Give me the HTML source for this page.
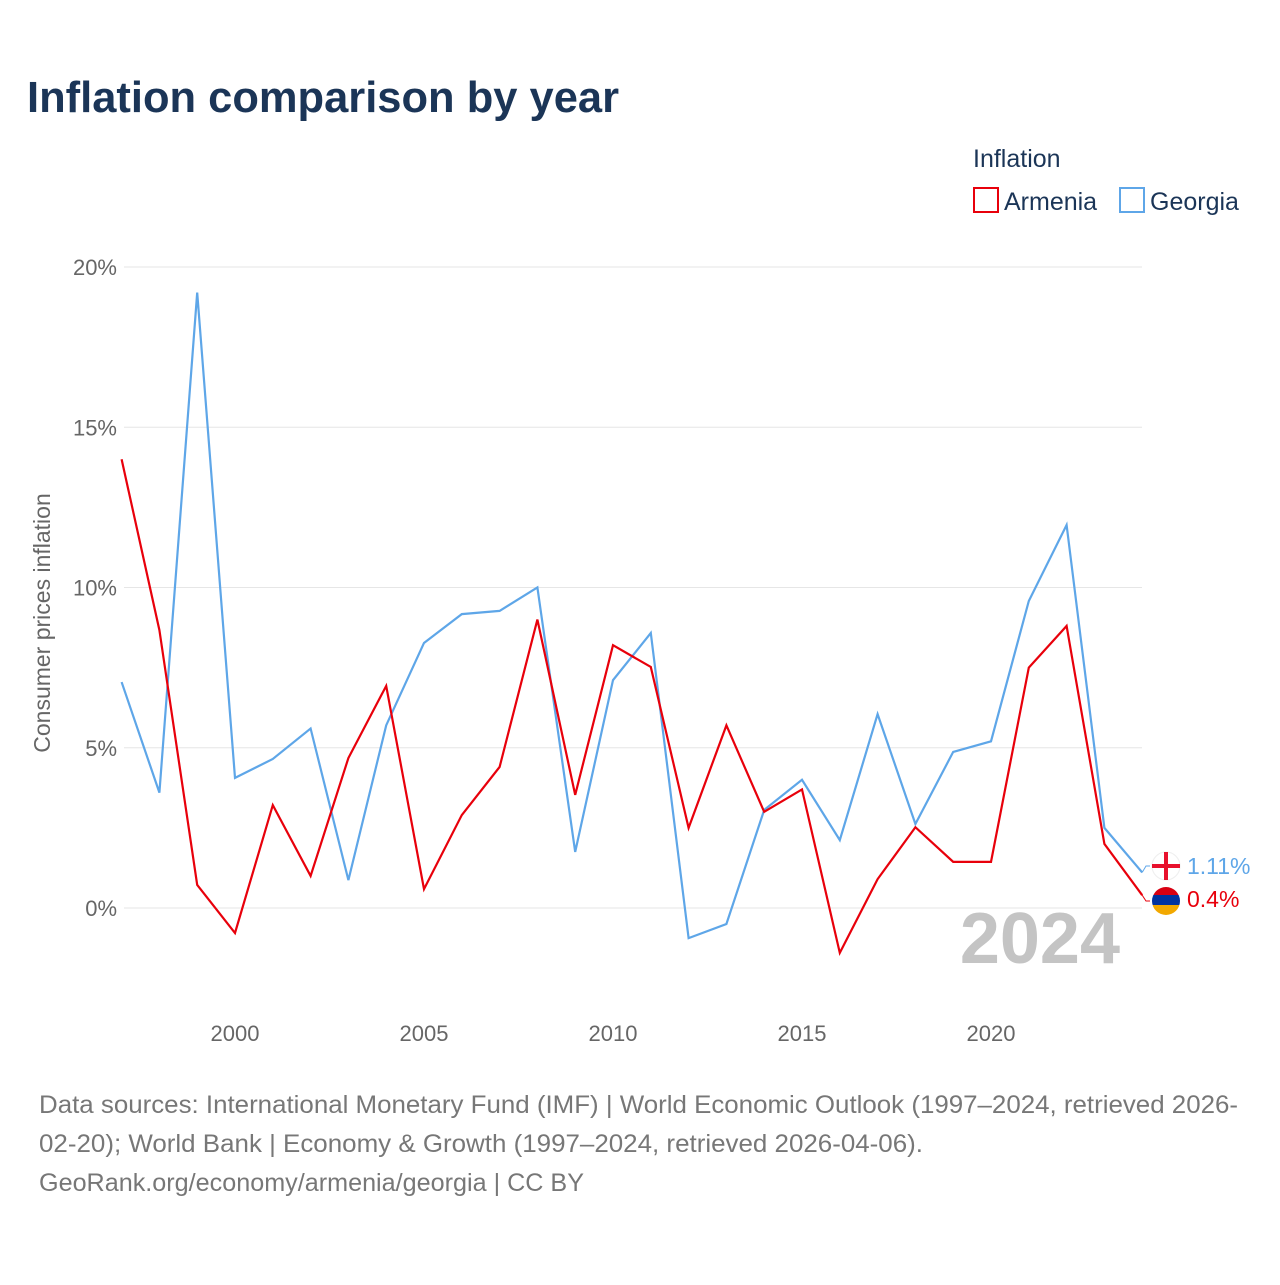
<!DOCTYPE html>
<html><head><meta charset="utf-8"><style>
body{margin:0;width:1280px;height:1280px;background:#fff;font-family:"Liberation Sans",sans-serif;overflow:hidden}
</style></head><body>
<svg width="1280" height="1280" id="chart">
<text x="27" y="112" font-size="44" font-weight="bold" fill="#1b3557" textLength="592" lengthAdjust="spacingAndGlyphs">Inflation comparison by year</text>
<text x="973" y="167" font-size="25" fill="#1b3557">Inflation</text>
<g><rect x="974" y="188" width="24" height="24" fill="none" stroke="#e8000b" stroke-width="2"/><text x="1004" y="210" font-size="25" fill="#1b3557">Armenia</text></g>
<g><rect x="1120" y="188" width="24" height="24" fill="none" stroke="#5ea6e8" stroke-width="2"/><text x="1150" y="210" font-size="25" fill="#1b3557">Georgia</text></g>
<g id="grid"></g><g id="xticks"></g>
<text transform="translate(50,623) rotate(-90)" text-anchor="middle" font-size="23" fill="#666">Consumer prices inflation</text>
<text x="1120" y="963" text-anchor="end" font-size="72" font-weight="bold" fill="#c4c4c4">2024</text>
<g id="series"></g>
<g font-size="25" fill="#777">
<text x="39" y="1113" textLength="1199" lengthAdjust="spacingAndGlyphs">Data sources: International Monetary Fund (IMF) | World Economic Outlook (1997–2024, retrieved 2026-</text>
<text x="39" y="1152" textLength="884" lengthAdjust="spacingAndGlyphs">02-20); World Bank | Economy &amp; Growth (1997–2024, retrieved 2026-04-06).</text>
<text x="39" y="1191" textLength="545" lengthAdjust="spacingAndGlyphs">GeoRank.org/economy/armenia/georgia | CC BY</text>
</g>
</svg>
<script>
const years=[1997,1998,1999,2000,2001,2002,2003,2004,2005,2006,2007,2008,2009,2010,2011,2012,2013,2014,2015,2016,2017,2018,2019,2020,2021,2022,2023,2024];
const armenia=[14.0,8.67,0.72,-0.78,3.21,1.0,4.68,6.93,0.59,2.9,4.4,9.0,3.53,8.2,7.52,2.5,5.7,3.0,3.7,-1.4,0.9,2.52,1.44,1.44,7.5,8.8,2.0,0.4];
const georgia=[7.05,3.6,19.2,4.06,4.65,5.6,0.87,5.7,8.27,9.17,9.27,10.0,1.75,7.11,8.58,-0.94,-0.5,3.06,4.0,2.12,6.05,2.62,4.87,5.2,9.58,11.95,2.5,1.11];
const yTicks=[0,5,10,15,20];
const xTicks=[2000,2005,2010,2015,2020];
const NS="http://www.w3.org/2000/svg";
const x=v=>235+(v-2000)*37.8;
const y=v=>908-v*32.05;
function mk(t,a,p){const e=document.createElementNS(NS,t);for(const k in a)e.setAttribute(k,a[k]);p.appendChild(e);return e;}
const grid=document.getElementById('grid');
yTicks.forEach(t=>{
 const l=mk('line',{x1:124,x2:1142,y1:y(t),y2:y(t),stroke:'#e6e6e6','stroke-width':1},grid);
 
 
 const tx=mk('text',{x:117,y:y(t)+8,'text-anchor':'end','font-size':22,fill:'#666'},grid);
 tx.textContent=t+'%';
 
 
});
const xt=document.getElementById('xticks');
xTicks.forEach(t=>{
 const tx=mk('text',{x:x(t),y:1041,'text-anchor':'middle','font-size':22,fill:'#666'},xt);
 tx.textContent=t;
 
 
});
const s=document.getElementById('series');
function line(vals,col,name){
 const p=mk('polyline',{points:vals.map((v,i)=>x(years[i])+','+y(v)).join(' '),fill:'none',stroke:col,'stroke-width':2.2},s);
 
 
}
line(georgia,'#5ea6e8','georgia-line');
line(armenia,'#e8000b','armenia-line');
const lx=x(2024);
const gy=y(georgia[georgia.length-1]), ay=y(armenia[armenia.length-1]);
const gl=mk('g',{},s);


mk('circle',{cx:1166,cy:866,r:14,fill:'#fff',stroke:'#eee'},gl);
mk('rect',{x:1152,y:864,width:28,height:4,fill:'#e8112d'},gl);
mk('rect',{x:1164,y:852,width:4,height:28,fill:'#e8112d'},gl);
mk('text',{x:1187,y:874,'font-size':23,fill:'#5ea6e8'},gl).textContent=georgia[georgia.length-1]+'%';
mk('polyline',{points:lx+','+gy+' 1146,866 1150,866',fill:'none',stroke:'#5ea6e8'},gl);
const al=mk('g',{},s);


mk('clipPath',{id:'cp'},al);
mk('circle',{cx:1166,cy:901,r:14},document.getElementById('cp'));
const fg=mk('g',{'clip-path':'url(#cp)'},al);
mk('rect',{x:1150,y:885,width:32,height:10,fill:'#d90012'},fg);
mk('rect',{x:1150,y:895,width:32,height:10,fill:'#0033a0'},fg);
mk('rect',{x:1150,y:905,width:32,height:12,fill:'#f2a800'},fg);
mk('text',{x:1187,y:907,'font-size':23,fill:'#e8000b'},al).textContent=armenia[armenia.length-1]+'%';
mk('polyline',{points:lx+','+ay+' 1146,901 1150,901',fill:'none',stroke:'#e8000b'},al);
</script>
</body></html>
